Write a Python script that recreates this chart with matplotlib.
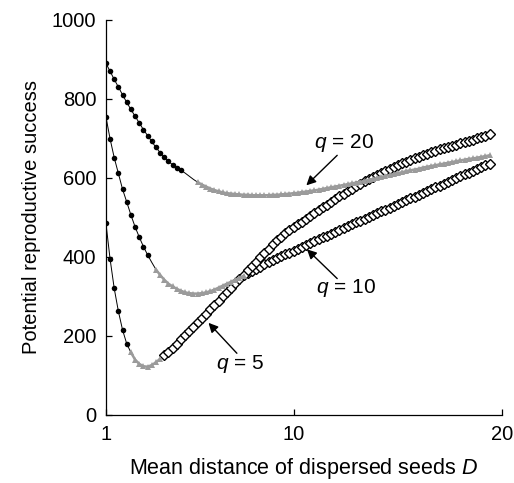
import numpy as np
import matplotlib
matplotlib.use("Agg")
import matplotlib.pyplot as plt

plt.rcParams["font.family"] = ["Liberation Sans", "DejaVu Sans"]
plt.rcParams["mathtext.fontset"] = "custom"
plt.rcParams["mathtext.rm"] = "Liberation Sans"
plt.rcParams["mathtext.it"] = "Liberation Sans:italic"

# mean dispersal distance D, sampled every 0.2
dist = np.round(np.arange(1.0, 19.41, 0.2), 1)

succ_q20 = [890, 870, 849, 830, 810, 791, 773, 756, 739, 722,
            707, 692, 677, 664, 652, 642, 633, 626, 619, 612,
            604, 596, 589, 583, 578, 573, 569, 566, 563, 561,
            560, 559, 558, 557, 557, 556, 556, 556, 556, 556,
            557, 557, 558, 559, 560, 561, 562, 564, 565, 567,
            568, 570, 572, 574, 576, 578, 580, 582, 584, 586,
            588, 590, 592, 595, 597, 600, 602, 605, 607, 610,
            612, 614, 617, 619, 621, 623, 626, 628, 630, 632,
            634, 636, 638, 640, 642, 644, 646, 648, 649, 651,
            653, 655, 657]

succ_q10 = [755, 699, 651, 611, 571, 539, 506, 476, 450, 426,
            405, 386, 368, 354, 342, 332, 325, 319, 314, 310,
            308, 307, 307, 308, 310, 313, 317, 322, 327, 332,
            337, 342, 347, 352, 358, 364, 370, 375, 381, 387,
            392, 397, 402, 407, 411, 416, 421, 426, 430, 435,
            440, 444, 449, 454, 458, 463, 468, 472, 477, 482,
            487, 491, 496, 501, 505, 510, 515, 519, 524, 529,
            533, 538, 543, 548, 552, 557, 562, 566, 571, 576,
            580, 585, 590, 594, 599, 604, 609, 613, 618, 623,
            627, 632, 636]

succ_q5 = [486, 395, 320, 262, 215, 180, 158, 140, 129, 123,
           122, 126, 133, 142, 151, 160, 170, 180, 191, 202,
           212, 223, 234, 245, 256, 267, 278, 289, 300, 311,
           322, 333, 344, 355, 366, 377, 388, 399, 410, 421,
           432, 442, 451, 460, 467, 475, 482, 489, 497, 504,
           511, 518, 525, 532, 539, 546, 553, 560, 566, 573,
           579, 585, 591, 597, 603, 608, 613, 618, 623, 628,
           632, 637, 641, 645, 649, 653, 657, 661, 665, 668,
           672, 675, 678, 681, 684, 687, 690, 693, 696, 700,
           703, 707, 711]

# (dots end, triangles start, triangles end, diamonds start) as indices
segments = {
    "20": (18, 22, 92, None),
    "10": (10, 12, 33, 34),
    "5": (5, 6, 13, 14),
}
curves = {"20": succ_q20, "10": succ_q10, "5": succ_q5}

gray = "#9b9b9b"

fig = plt.figure(figsize=(5.14, 4.83), dpi=100)
ax = fig.add_axes([0.206, 0.141, 0.771, 0.818])

for q, vals in curves.items():
    vals = np.array(vals)
    dot_end, tri_start, tri_end, dia_start = segments[q]
    ax.plot(dist, vals, color="black", lw=0.7, zorder=2)
    ax.plot(dist[:dot_end + 1], vals[:dot_end + 1], "o", color="black",
            ms=4, mew=0, zorder=3)
    if dia_start is not None:
        ax.plot(dist[dia_start:], vals[dia_start:], "D", mfc="white",
                mec="black", mew=1.0, ms=4.8, ls="none", zorder=3)
    ax.plot(dist[tri_start:tri_end + 1], vals[tri_start:tri_end + 1],
            color=gray, lw=1.8, zorder=4)
    ax.plot(dist[tri_start:tri_end + 1], vals[tri_start:tri_end + 1], "^",
            color=gray, ms=4.2, mew=0, zorder=4)

arrow = dict(arrowstyle="-|>", color="black", lw=1.0, mutation_scale=14,
             shrinkA=0, shrinkB=0)
ax.annotate("", xy=(10.61, 581), xytext=(12.09, 657), arrowprops=arrow)
ax.text(12.39, 687, "$q$ = 20", ha="center", va="center", fontsize=15)
ax.annotate("", xy=(10.64, 419), xytext=(12.09, 345), arrowprops=arrow)
ax.text(12.53, 321, "$q$ = 10", ha="center", va="center", fontsize=15)
ax.annotate("", xy=(5.92, 233), xytext=(7.28, 156), arrowprops=arrow)
ax.text(7.44, 129, "$q$ = 5", ha="center", va="center", fontsize=15)

ax.set_xlim(1, 20)
ax.set_ylim(0, 1000)
ax.set_xticks([1, 10, 20])
ax.set_yticks([0, 200, 400, 600, 800, 1000])
ax.spines["top"].set_visible(False)
ax.spines["right"].set_visible(False)
for s in ("left", "bottom"):
    ax.spines[s].set_linewidth(0.9)
ax.tick_params(direction="in", length=4, width=0.9, labelsize=14.5, pad=7)

ax.set_xlabel("Mean distance of dispersed seeds $D$", fontsize=15.5, labelpad=9)
ax.set_ylabel("Potential reproductive success", fontsize=14.5, labelpad=8)

fig.savefig("out.png", dpi=100)
